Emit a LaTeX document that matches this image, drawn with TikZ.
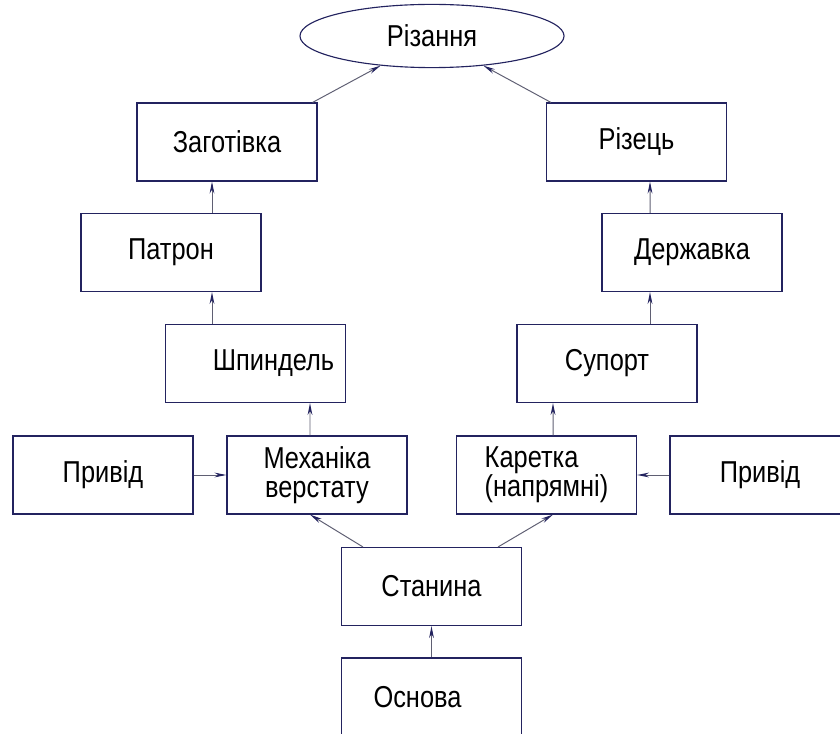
\documentclass[tikz,border=0pt]{standalone}
\usepackage{fontspec}
\newfontfamily\gostfont[FakeStretch=0.84]{Liberation Sans}
\definecolor{InkNavy}{RGB}{35,35,95}
\definecolor{LinkGray}{RGB}{95,95,115}
\usetikzlibrary{shapes.geometric,arrows.meta,calc}

\begin{document}
\begin{tikzpicture}[x=0.025cm,y=-0.025cm,
    blockbox/.style={draw=InkNavy, line width=0.8pt, minimum width=4.5cm, minimum height=1.95cm,
                     font=\gostfont\fontsize{21.5}{20.5}\selectfont, inner sep=0pt},
    link/.style={draw=LinkGray, line width=0.7pt, -{Stealth[length=3mm,width=1.2mm,color=InkNavy]}}]
  \useasboundingbox (0,0) rectangle (840,734);
  \clip (0,0) rectangle (840,734);

  \node[ellipse, draw=InkNavy, line width=0.8pt, minimum width=6.6cm, minimum height=1.58cm,
        font=\gostfont\fontsize{21.5}{20.5}\selectfont] (cut) at (432,36) {Різання};

  % single-line blocks
  \foreach \nm/\txt/\xpos/\ypos in {zag/Заготівка/227/142, pat/Патрон/171/252.5,
      drvl/Привід/103/475, drvr/Привід/760/475, stan/Станина/431.5/586.5,
      riz/Різець/636.5/142, der/Державка/692/252.5, sup/Супорт/607/363.5} {
    \node[blockbox] (\nm) at (\xpos,\ypos) {\txt};
  }
  \node[blockbox] (shp) at (255.5,363.5) {\hspace*{0.9cm}Шпиндель};
  \node[blockbox] (osn) at (431.5,697) {Основа\hspace*{0.7cm}};
  \node[blockbox, align=center] (mech) at (317,475) {Механіка\\верстату};
  \node[blockbox, align=left] (kar) at (546.5,475) {Каретка\\(напрямні)};

  % links
  \draw[link] ($(zag.north east)+(-5,0)$) -- (cut.210);
  \draw[link] ($(riz.north west)+(5,0)$) -- (cut.330);
  \draw[link] ($(pat.north)+(41,0)$) -- ($(zag.south)+(-15,0)$);
  \draw[link] ($(shp.north)+(-43.5,0)$) -- ($(pat.south)+(41,0)$);
  \draw[link] ($(mech.north)+(-7,0)$) -- ($(shp.south)+(54.5,0)$);
  \draw[link] (drvl.east) -- (mech.west);
  \draw[link] (drvr.west) -- (kar.east);
  \draw[link] ($(stan.north west)+(22,0)$) -- ($(mech.south)+(-7,0)$);
  \draw[link] ($(stan.north east)+(-24,0)$) -- ($(kar.south)+(6.5,0)$);
  \draw[link] ($(kar.north)+(6.5,0)$) -- ($(sup.south)+(-54,0)$);
  \draw[link] ($(sup.north)+(43,0)$) -- ($(der.south)+(-42,0)$);
  \draw[link] ($(der.north)+(-42,0)$) -- ($(riz.south)+(13.5,0)$);
  \draw[link] (osn.north) -- (stan.south);
\end{tikzpicture}
\end{document}
